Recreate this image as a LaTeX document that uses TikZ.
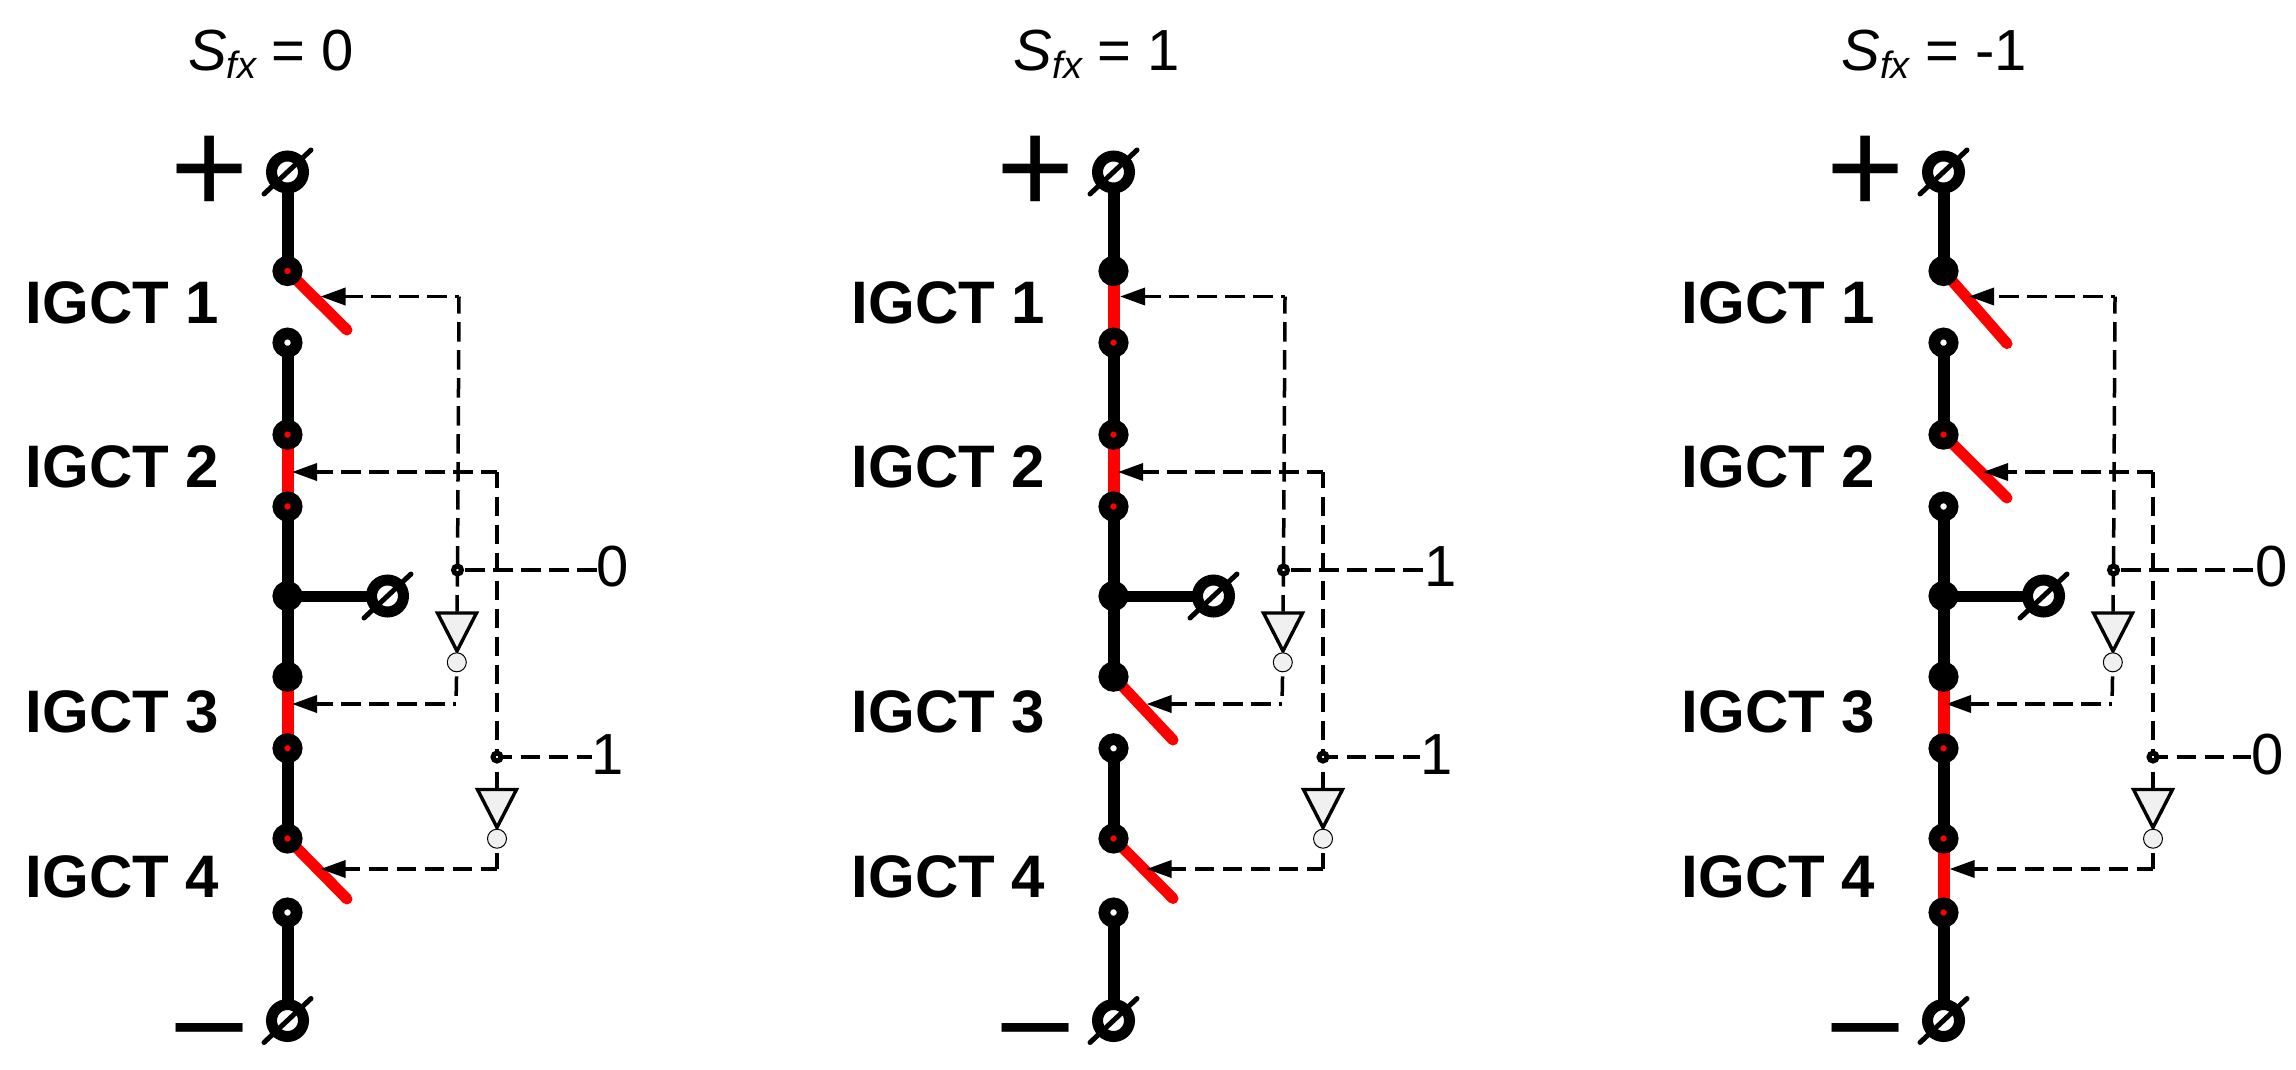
\documentclass[tikz,border=0pt]{standalone}
\usepackage{fontspec}
\setmainfont{Liberation Sans}
\usetikzlibrary{arrows.meta,backgrounds,calc}
\tikzset{
  basedot/.style={circle,draw=black,line width=11.7pt,minimum size=18.3pt,inner sep=0pt},
  gatedot/.style={basedot,fill=red},
  holedot/.style={basedot,fill=white},
  soliddot/.style={basedot,fill=black},
  term/.style={circle,draw=black,line width=11pt,minimum size=32pt,inner sep=0pt,fill=white},
  termbar/.style={draw=black,line width=5pt,line cap=round},
  busline/.style={draw=black,line width=12pt},
  outline/.style={draw=black,line width=11pt},
  redline/.style={draw=red,line width=12pt},
  blade/.style={draw=red,line width=11pt,line cap=round},
  ctrl/.style={draw=black,line width=3.5pt,dash pattern=on 19.5pt off 8.5pt},
  ctrltip/.style={ctrl,-{Triangle[length=25pt,width=17pt]}},
  tapdot/.style={circle,draw=black,line width=5pt,minimum size=8pt,inner sep=0pt,fill=white},
  invtri/.style={draw=black,line width=3.4pt,fill=black!6,line join=miter},
  bubble/.style={circle,draw=black,line width=1pt,minimum size=19pt,inner sep=0pt,fill=black!6},
  igct/.style={anchor=base west,inner sep=0pt,font=\fontsize{60}{60}\selectfont\bfseries},
  polar/.style={inner sep=0pt,font=\fontsize{134}{134}\selectfont},
  headtext/.style={anchor=base west,inner sep=0pt,font=\fontsize{58}{58}\selectfont},
  logic/.style={anchor=base west,inner sep=0pt,font=\fontsize{58}{58}\selectfont},
}
\newcommand{\sfxhead}[1]{\textit{S}\raisebox{-7.5pt}{\fontsize{38}{38}\selectfont\textit{fx}}\hspace{-2pt} = #1}
\newcommand{\minussign}{\scalebox{1.67}[1]{\fontsize{80}{80}\selectfont\bfseries −}}
% fixed parts of a leg: terminals and labels
\newcommand{\legframe}[1]{%
  \node[term] (#1top) at (0,172) {};
  \node[term] (#1bot) at (0,1020.5) {};
  \node[term] (#1mid) at (100,596) {};
  \node[soliddot] (#1j) at (0,596) {};
  \foreach \tn in {top,bot,mid}{\draw[termbar] (#1\tn) ++(-23.5,22) -- ++(47,-44);}
  \node[polar] (#1plus) at (-78,175) {+};
  \node[inner sep=0pt] (#1minus) at (-78,1039) {\minussign};
  \node[igct] (#1g1) at (-262,323) {IGCT 1};
  \node[igct] (#1g2) at (-262,487.5) {IGCT 2};
  \node[igct] (#1g3) at (-262,732) {IGCT 3};
  \node[igct] (#1g4) at (-262,897.5) {IGCT 4};
  \node[tapdot] (#1d1) at (170,570) {};
  \node[tapdot] (#1d2) at (209.5,757) {};
  \coordinate (#1i1) at (169.5,611.5);
  \coordinate (#1i2) at (209.5,788);
  \draw[invtri] (#1i1) ++(-19.5,1.5) -- ++(39,0) -- ++(-19.5,38) -- cycle;
  \draw[invtri] (#1i2) ++(-19.5,1.5) -- ++(39,0) -- ++(-19.5,38) -- cycle;
  \node[bubble] (#1o1) at (169.3,662.3) {};
  \node[bubble] (#1o2) at (209.5,838.7) {};
  \coordinate (#1c1) at (171.5,296.5);
  \coordinate (#1c2) at (209.5,472);
  \coordinate (#1c3) at (168.5,704);
  \coordinate (#1c4) at (209.5,869);
}
% wires: #1 prefix, #2..#5 arrow tip x for IGCT 1..4
\newcommand{\legwires}[5]{%
  \coordinate (#1t1) at (#2,296.5);
  \coordinate (#1t2) at (#3,472);
  \coordinate (#1t3) at (#4,704);
  \coordinate (#1t4) at (#5,869);
  \begin{scope}[on background layer]
    \draw[busline] (#1top.center) -- (#1n1.center);
    \draw[busline] (#1n2.center) -- (#1n3.center);
    \draw[busline] (#1n4.center) -- (#1j.center) -- (#1n5.center);
    \draw[busline] (#1n6.center) -- (#1n7.center);
    \draw[busline] (#1n8.center) -- (#1bot.center);
    \draw[outline] (#1j.center) -- (#1mid.center);
    \draw[ctrl,dash phase=2.5pt] (#1c1) -- (#1d1.center);
    \draw[ctrltip,dash phase=15.5pt] (#1c1) -- (#1t1);
    \draw[ctrl,dash phase=3.5pt] (#1c2) -- (#1d2.center);
    \draw[ctrltip,dash phase=3.5pt] (#1c2) -- (#1t2);
    \draw[ctrl,dash phase=3pt] (#1d1.center) -- (#1i1);
    \draw[ctrl,dash phase=13.3pt] (#1d2.center) -- (#1i2);
    \draw[ctrl,dash phase=14pt] (#1o1.center) -- (#1c3);
    \draw[ctrltip,dash phase=16.5pt] (#1c3) -- (#1t3);
    \draw[ctrl,dash phase=13.5pt] (#1o2.center) -- (#1c4);
    \draw[ctrltip,dash phase=3pt] (#1c4) -- (#1t4);
    \draw[ctrl,dash phase=20.2pt] (#1d1.center) -- (#1d1 -| #1v1.west);
    \draw[ctrl,dash phase=4.5pt] (#1d2.center) -- (#1d2 -| #1v2.west);
  \end{scope}
}
\begin{document}
\begin{tikzpicture}[x=1pt,y=-1pt]
\useasboundingbox (0,0) rectangle (2296,1069);

% ---- Sfx = 0
\node[headtext] (atitle) at (188,70.5) {\sfxhead{0}};
\node[logic] (av1) at (596.6,586.5) {0};
\node[logic] (av2) at (591.7,774.5) {1};
\begin{scope}[xshift=287.5pt]
  \legframe{a}
  \foreach \nm/\yy/\st in {n1/271/gatedot,n2/342.6/holedot,n3/434.6/gatedot,n4/506.5/gatedot,
                           n5/676.7/soliddot,n6/748.3/gatedot,n7/838.5/gatedot,n8/912.5/holedot}
    {\node[\st] (a\nm) at (0,\yy) {};}
  \coordinate (ab1) at (59.5,330);
  \coordinate (ab4) at (59.5,899);
  \begin{scope}[on background layer]
    \draw[blade] (an1.center) -- (ab1);
    \draw[redline] (an3.center) -- (an4.center);
    \draw[redline] (an5.center) -- (an6.center);
    \draw[blade] (an7.center) -- (ab4);
  \end{scope}
  \legwires{a}{33}{4.5}{4.5}{33}
\end{scope}

% ---- Sfx = 1
\node[headtext] (btitle) at (1013.7,70.5) {\sfxhead{1}};
\node[logic] (bv1) at (1424.4,586.5) {1};
\node[logic] (bv2) at (1420.4,774.5) {1};
\begin{scope}[xshift=1113.5pt]
  \legframe{b}
  \foreach \nm/\yy/\st in {n1/271/soliddot,n2/342.6/gatedot,n3/434.6/gatedot,n4/506.5/gatedot,
                           n5/676.7/soliddot,n6/748.3/holedot,n7/838.5/gatedot,n8/912.5/holedot}
    {\node[\st] (b\nm) at (0,\yy) {};}
  \coordinate (bb3) at (59.5,740);
  \coordinate (bb4) at (59.5,898.5);
  \begin{scope}[on background layer]
    \draw[redline] (bn1.center) -- (bn2.center);
    \draw[redline] (bn3.center) -- (bn4.center);
    \draw[blade] (bn5.center) -- (bb3);
    \draw[blade] (bn7.center) -- (bb4);
  \end{scope}
  \legwires{b}{6.5}{4.5}{33}{33}
\end{scope}

% ---- Sfx = -1
\node[headtext] (ctitle) at (1841.5,70.5) {\sfxhead{-1}};
\node[logic] (cv1) at (2255.3,586.5) {0};
\node[logic] (cv2) at (2251,774.5) {0};
\begin{scope}[xshift=1943.5pt]
  \legframe{c}
  \foreach \nm/\yy/\st in {n1/271/soliddot,n2/342.6/holedot,n3/434.6/gatedot,n4/506.5/holedot,
                           n5/676.7/soliddot,n6/748.3/gatedot,n7/838.5/gatedot,n8/912.5/gatedot}
    {\node[\st] (c\nm) at (0,\yy) {};}
  \coordinate (cb1) at (63.5,343.6);
  \coordinate (cb2) at (63.5,498);
  \begin{scope}[on background layer]
    \draw[blade] (cn1.center) -- (cb1);
    \draw[blade] (cn3.center) -- (cb2);
    \draw[redline] (cn5.center) -- (cn6.center);
    \draw[redline] (cn7.center) -- (cn8.center);
  \end{scope}
  \legwires{c}{25.5}{39.5}{2.5}{6}
\end{scope}
\end{tikzpicture}
\end{document}
